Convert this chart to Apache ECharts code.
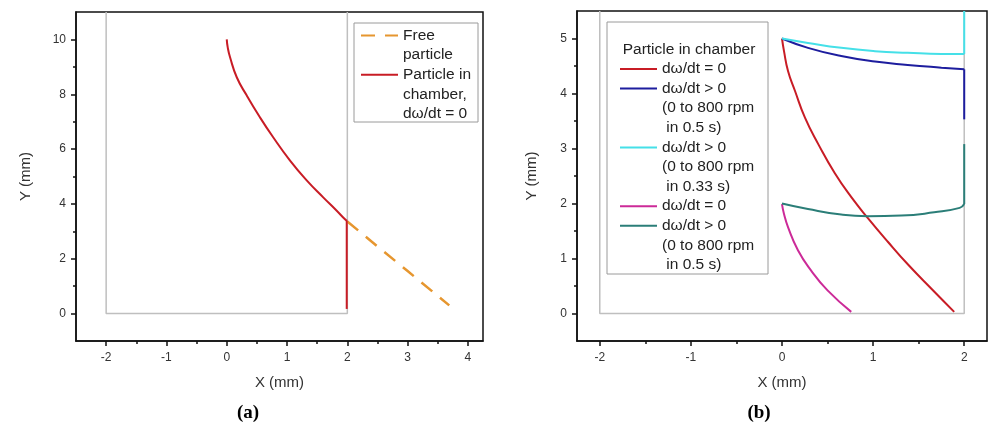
<!DOCTYPE html>
<html>
<head>
<meta charset="utf-8">
<script src="https://cdn.jsdelivr.net/npm/echarts@6/dist/echarts.min.js"></script>
<style>
html,body{margin:0;padding:0;background:#fff;}
#chart{width:989px;height:425px;}
</style>
</head>
<body>
<div id="chart"></div>
<script>
// ---------- Panel (a) ----------
const xTicksA = [-2, -1, 0, 1, 2, 3, 4];
const xMinorA = [-1.5, -0.5, 0.5, 1.5, 2.5, 3.5];
const yTicksA = [0, 2, 4, 6, 8, 10];
const yMinorA = [1, 3, 5, 7, 9];
const chamberAX = [-2, -2, 2, 2];
const chamberAY = [11, 0, 0, 11];
const freeX = [2.0, 2.5, 3.0, 3.69];
const freeY = [3.36, 2.45, 1.55, 0.30];
const redAX = [0, 0.017, 0.055, 0.166, 0.33, 0.55, 0.77, 1.05, 1.33, 1.60, 1.82, 1.97, 2.0];
const redAY = [10, 9.7, 9.35, 8.62, 7.96, 7.16, 6.43, 5.58, 4.85, 4.24, 3.76, 3.42, 3.38];
const redAWallX = [1.99, 1.99];
const redAWallY = [3.38, 0.17];
const legendNamesA = ['Free particle', 'Particle in chamber, dω/dt = 0'];
const legendLabelsA = ['Free\nparticle', 'Particle in\nchamber,\ndω/dt = 0'];

// ---------- Panel (b) ----------
const xTicksB = [-2, -1, 0, 1, 2];
const xMinorB = [-1.5, -0.5, 0.5, 1.5];
const yTicksB = [0, 1, 2, 3, 4, 5];
const yMinorB = [0.5, 1.5, 2.5, 3.5, 4.5];
const chamberBX = [-2, -2, 2, 2];
const chamberBY = [5.5, 0, 0, 5.5];
const redBX = [0, 0.022, 0.066, 0.142, 0.252, 0.398, 0.58, 0.763, 0.945, 1.164, 1.383, 1.64, 1.89];
const redBY = [5.0, 4.77, 4.41, 4.05, 3.56, 3.08, 2.55, 2.11, 1.73, 1.30, 0.89, 0.45, 0.03];
const blueBX = [0, 0.285, 0.65, 1.02, 1.38, 1.75, 2.0];
const blueBY = [5.0, 4.83, 4.68, 4.58, 4.52, 4.47, 4.44];
const blueWallY = [4.44, 3.53];
const cyanBX = [0, 0.285, 0.65, 1.02, 1.38, 1.75, 2.0];
const cyanBY = [5.0, 4.92, 4.83, 4.77, 4.74, 4.72, 4.72];
const cyanWallY = [4.72, 5.5];
const magBX = [0, 0.022, 0.066, 0.175, 0.32, 0.50, 0.76];
const magBY = [1.99, 1.81, 1.57, 1.15, 0.78, 0.42, 0.03];
const tealBX = [0, 0.285, 0.65, 0.94, 1.31, 1.67, 1.95, 2.0];
const tealBY = [2.0, 1.90, 1.80, 1.77, 1.78, 1.84, 1.92, 1.99];
const tealWallY = [1.99, 3.08];
const wallBX = [2.0, 2.0];
const legendTitleB = 'Particle in chamber';
const legendNamesB = ['Y0 = 5 mm, dω/dt = 0', 'Y0 = 5 mm, 0 to 800 rpm in 0.5 s', 'Y0 = 5 mm, 0 to 800 rpm in 0.33 s', 'Y0 = 2 mm, dω/dt = 0', 'Y0 = 2 mm, 0 to 800 rpm in 0.5 s'];
const legendLabelsB = ['dω/dt = 0', 'dω/dt > 0\n(0 to 800 rpm\n in 0.5 s)', 'dω/dt > 0\n(0 to 800 rpm\n in 0.33 s)', 'dω/dt = 0', 'dω/dt > 0\n(0 to 800 rpm\n in 0.5 s)'];
const captions = ['a', 'b'];

// ---------- styles ----------
const FONT = "'Liberation Sans', Arial, Helvetica, sans-serif";
const SERIF = "'Liberation Serif', 'Times New Roman', serif";
const C = { red: '#c81c25', orange: '#e6962f', navy: '#1d1d9e', cyan: '#45e0e8', magenta: '#cc2a98', teal: '#2b7e78', gray: '#bfbfbf' };
const FS = 15.5, LH = 19.6;

const pairs = (xs, ys) => xs.map((x, i) => [x, ys[i]]);

function line(name, xs, ys, color, g, extra) {
  return Object.assign({
    type: 'line', name: name, xAxisIndex: g, yAxisIndex: g,
    data: pairs(xs, ys), symbol: 'none', showSymbol: false,
    smooth: 0.5,
    lineStyle: { color: color, width: 2 }, itemStyle: { color: color },
    emphasis: { disabled: true }, animation: false
  }, extra || {});
}

function mainX(g, min, max, ticks) {
  return {
    type: 'value', gridIndex: g, min: min, max: max, position: 'bottom',
    name: 'X (mm)', nameLocation: 'middle', nameGap: 34,
    nameTextStyle: { fontFamily: FONT, fontSize: 15, color: '#333' },
    axisLine: { show: true, onZero: false, lineStyle: { color: '#111', width: 1.5 } },
    axisTick: { show: true, customValues: ticks, length: 5, lineStyle: { color: '#111', width: 1.5 } },
    axisLabel: { customValues: ticks, margin: 11, fontFamily: FONT, fontSize: 12, color: '#333' },
    splitLine: { show: false }
  };
}
function mainY(g, min, max, ticks, gap) {
  return {
    type: 'value', gridIndex: g, min: min, max: max, position: 'left',
    name: 'Y (mm)', nameLocation: 'middle', nameGap: gap,
    nameTextStyle: { fontFamily: FONT, fontSize: 15, color: '#333' },
    axisLine: { show: true, onZero: false, lineStyle: { color: '#111', width: 1.5 } },
    axisTick: { show: true, customValues: ticks, length: 5, lineStyle: { color: '#111', width: 1.5 } },
    axisLabel: { customValues: ticks, margin: 10, fontFamily: FONT, fontSize: 12, color: '#333' },
    splitLine: { show: false }
  };
}
function minorAxis(g, min, max, ticks, pos) {
  return {
    type: 'value', gridIndex: g, min: min, max: max, position: pos,
    axisLine: { show: false, onZero: false },
    axisTick: { show: true, customValues: ticks, length: 3, lineStyle: { color: '#111', width: 1.5 } },
    axisLabel: { show: false }, splitLine: { show: false }
  };
}
// one legend component per entry so that each icon sits on the first line of its text
function legends(names, labels, left, firstCenter) {
  let c = firstCenter;
  return names.map((n, i) => {
    const k = labels[i].split('\n').length;
    const top = c - (2 * k - 1) * LH / 2;
    c += k * LH;
    const text = '\n'.repeat(k - 1) + labels[i];
    return {
      orient: 'vertical', selectedMode: false, left: left, top: top, padding: 0,
      itemWidth: 37, itemHeight: 12, itemGap: 0, z: 6,
      itemStyle: { opacity: 0, color: 'rgba(0,0,0,0)', borderWidth: 0 },
      data: [n],
      formatter: () => text,
      textStyle: { fontFamily: FONT, fontSize: FS, lineHeight: LH, color: '#222' }
    };
  });
}

const gridA = { left: 76, top: 12, width: 407, height: 329 };
const gridB = { left: 577, top: 11, width: 410, height: 330 };

const option = {
  animation: false,
  backgroundColor: '#fff',
  grid: [
    Object.assign({ show: true, borderColor: '#111', borderWidth: 1.5, backgroundColor: 'transparent' }, gridA),
    Object.assign({ show: true, borderColor: '#111', borderWidth: 1.5, backgroundColor: 'transparent' }, gridB),
    Object.assign({ show: false }, gridA),
    Object.assign({ show: false }, gridB)
  ],
  xAxis: [
    mainX(0, -2.5, 4.25, xTicksA),
    mainX(1, -2.25, 2.25, xTicksB),
    minorAxis(2, -2.5, 4.25, xMinorA, 'bottom'),
    minorAxis(3, -2.25, 2.25, xMinorB, 'bottom')
  ],
  yAxis: [
    mainY(0, -1, 11, yTicksA, 43),
    mainY(1, -0.5, 5.5, yTicksB, 38),
    minorAxis(2, -1, 11, yMinorA, 'left'),
    minorAxis(3, -0.5, 5.5, yMinorB, 'left')
  ],
  graphic: [
    { type: 'rect', z: 5, shape: { x: 354, y: 23, width: 124, height: 99 }, style: { fill: '#fff', stroke: '#9a9a9a', lineWidth: 1 } },
    { type: 'rect', z: 5, shape: { x: 607, y: 22, width: 161, height: 252 }, style: { fill: '#fff', stroke: '#9a9a9a', lineWidth: 1 } }
  ],
  title: [
    { text: '{p|(}{b|' + captions[0] + '}{p|)}', left: 248, top: 404, textAlign: 'center', padding: 0,
      textStyle: { rich: { p: { fontFamily: SERIF, fontSize: 19, color: '#000' }, b: { fontFamily: SERIF, fontSize: 19, fontWeight: 'bold', color: '#000' } } } },
    { text: '{p|(}{b|' + captions[1] + '}{p|)}', left: 759, top: 404, textAlign: 'center', padding: 0,
      textStyle: { rich: { p: { fontFamily: SERIF, fontSize: 19, color: '#000' }, b: { fontFamily: SERIF, fontSize: 19, fontWeight: 'bold', color: '#000' } } } },
    { text: legendTitleB, left: 689, top: 41.5, textAlign: 'center', padding: 0, z: 6,
      textStyle: { fontFamily: FONT, fontSize: FS, fontWeight: 'normal', color: '#222' } }
  ],
  legend: legends(legendNamesA, legendLabelsA, 360, 35.5).concat(legends(legendNamesB, legendLabelsB, 619, 69)),
  series: [
    // panel (a)
    line('chamberA', chamberAX, chamberAY, C.gray, 0, { smooth: false, silent: true, lineStyle: { color: C.gray, width: 1.5 } }),
    line(legendNamesA[0], freeX, freeY, C.orange, 0, { smooth: false, lineStyle: { color: C.orange, width: 2.5, type: [14, 10] } }),
    line(legendNamesA[1], redAX, redAY, C.red, 0),
    line(legendNamesA[1], redAWallX, redAWallY, C.red, 0, { smooth: false }),
    // panel (b)
    line('chamberB', chamberBX, chamberBY, C.gray, 1, { smooth: false, silent: true, lineStyle: { color: C.gray, width: 1.5 } }),
    line(legendNamesB[0], redBX, redBY, C.red, 1),
    line(legendNamesB[1], blueBX, blueBY, C.navy, 1),
    line(legendNamesB[1], wallBX, blueWallY, C.navy, 1, { smooth: false }),
    line(legendNamesB[2], cyanBX, cyanBY, C.cyan, 1),
    line(legendNamesB[2], wallBX, cyanWallY, C.cyan, 1, { smooth: false }),
    line(legendNamesB[3], magBX, magBY, C.magenta, 1),
    line(legendNamesB[4], tealBX, tealBY, C.teal, 1),
    line(legendNamesB[4], wallBX, tealWallY, C.teal, 1, { smooth: false })
  ]
};

const chart = echarts.init(document.getElementById('chart'), null, { renderer: 'canvas' });
chart.setOption(option);
</script>
</body>
</html>
